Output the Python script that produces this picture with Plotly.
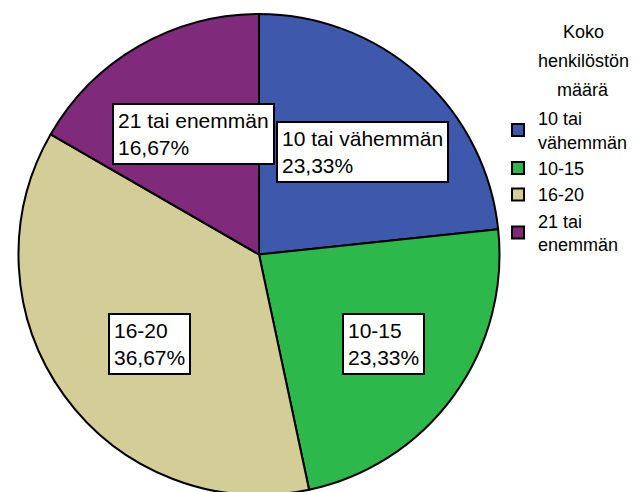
import math
import plotly.graph_objects as go

categories = ["10 tai vähemmän", "10-15", "16-20", "21 tai enemmän"]
legend_labels = ["10 tai<br>vähemmän", "10-15", "16-20", "21 tai<br>enemmän"]
values = [23.33, 23.33, 36.67, 16.67]
colors = ["#3E58AC", "#2DB84B", "#D3CE97", "#7F2A7B"]
legend_title_lines = ["Koko", "henkilöstön", "määrä"]

FONT = "Liberation Sans, Arial, sans-serif"
W, H = 638, 492
dom_x = [9 / W, 493 / W]
dom_y = [5 / H, 486 / H]

fig = go.Figure()
fig.add_trace(go.Pie(
    labels=legend_labels,
    values=values,
    sort=False,
    direction="clockwise",
    rotation=0,
    marker=dict(colors=colors, line=dict(color="black", width=2)),
    textinfo="none",
    hoverinfo="label+percent",
    domain=dict(x=dom_x, y=dom_y),
    showlegend=True,
))

# label boxes placed from the slice mid-angles
cx, cy, r = 258, 492 - 251, 241
total = sum(values)
cum = 0
for cat, v in zip(categories, values):
    mid = (cum + v / 2) / total * 2 * math.pi
    cum += v
    px = cx + 0.6 * r * math.sin(mid)
    py = cy + 0.6 * r * math.cos(mid)
    pct = f"{v / total * 100:.2f}%".replace(".", ",")
    fig.add_annotation(
        x=px / W, y=py / H, xref="paper", yref="paper",
        text=f"{cat}<br>{pct}", showarrow=False, align="left",
        xanchor="center", yanchor="middle",
        font=dict(family=FONT, size=21, color="black"),
        bgcolor="white", bordercolor="black", borderwidth=2, borderpad=4,
    )

# legend title, one line per annotation to mimic the taller line spacing
for i, line in enumerate(legend_title_lines):
    fig.add_annotation(
        x=575 / W, y=1 - (24 + 29 * i) / H, xref="paper", yref="paper",
        text=line, showarrow=False, align="center",
        xanchor="center", yanchor="middle",
        font=dict(family=FONT, size=18, color="black"),
    )

fig.update_layout(
    width=W, height=H,
    margin=dict(l=0, r=0, t=0, b=0),
    paper_bgcolor="white", plot_bgcolor="white",
    font=dict(family=FONT, color="black"),
    legend=dict(
        x=490 / W, y=1 - 92 / H, xanchor="left", yanchor="top",
        font=dict(family=FONT, size=18),
        bgcolor="rgba(0,0,0,0)",
        tracegroupgap=6, itemwidth=30,
    ),
)

fig.write_html("out.html")
